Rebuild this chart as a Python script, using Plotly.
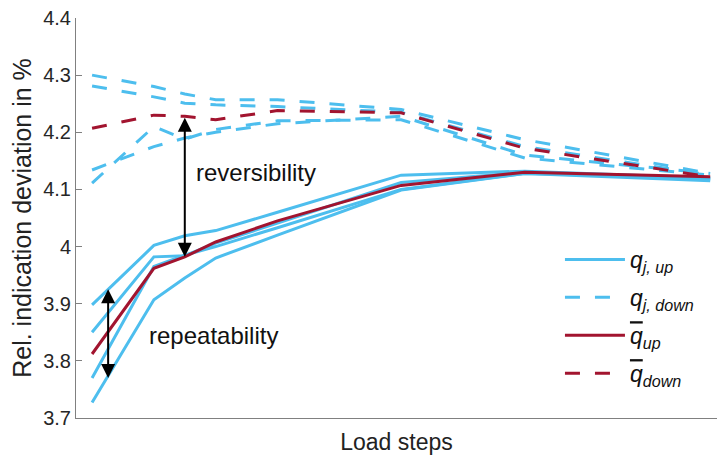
import plotly.graph_objects as go

# ---------------- data ----------------
load_steps = [0, 10, 15, 20, 30, 50, 70, 100]

q_up_runs = [
    [3.898, 4.002, 4.019, 4.028, 4.060, 4.125, 4.132, 4.120],
    [3.850, 3.982, 3.984, 4.006, 4.041, 4.112, 4.130, 4.118],
    [3.770, 3.965, 3.985, 4.000, 4.033, 4.100, 4.128, 4.120],
    [3.727, 3.907, 3.945, 3.980, 4.020, 4.099, 4.128, 4.115],
]
q_down_runs = [
    [4.300, 4.280, 4.267, 4.257, 4.257, 4.240, 4.187, 4.128],
    [4.281, 4.262, 4.251, 4.248, 4.245, 4.235, 4.175, 4.125],
    [4.134, 4.175, 4.190, 4.200, 4.215, 4.228, 4.160, 4.128],
    [4.111, 4.210, 4.188, 4.205, 4.220, 4.222, 4.155, 4.125],
]
q_up_mean = [3.812, 3.962, 3.982, 4.008, 4.045, 4.107, 4.130, 4.122]
q_down_mean = [4.207, 4.230, 4.228, 4.222, 4.238, 4.234, 4.172, 4.122]

y_ticks = [3.7, 3.8, 3.9, 4.0, 4.1, 4.2, 4.3, 4.4]
y_tick_labels = ["3.7", "3.8", "3.9", "4", "4.1", "4.2", "4.3", "4.4"]

# annotation anchors (data units)
reversibility_idx = 2
repeat_x = 2.6
repeat_span = [3.928, 3.770]

BLUE = "#4DBEEE"
RED = "#A2142F"
FONT = "Liberation Sans, Arial, Helvetica, sans-serif"
DASH = "15px,15px"

fig = go.Figure()

for i, run in enumerate(q_up_runs):
    fig.add_trace(go.Scatter(
        x=load_steps, y=run, mode="lines",
        line=dict(color=BLUE, width=3),
        name="<i>q</i><sub><i>j, up</i></sub>",
        legendgroup="g1", showlegend=(i == 0)))
for i, run in enumerate(q_down_runs):
    fig.add_trace(go.Scatter(
        x=load_steps, y=run, mode="lines",
        line=dict(color=BLUE, width=3, dash=DASH),
        name="<i>q</i><sub><i>j, down</i></sub>",
        legendgroup="g2", showlegend=(i == 0)))
fig.add_trace(go.Scatter(
    x=load_steps, y=q_up_mean, mode="lines",
    line=dict(color=RED, width=3),
    name="<span style='text-decoration:overline'><i>q</i></span><sub><i>up</i></sub>",
    legendgroup="g3"))
fig.add_trace(go.Scatter(
    x=load_steps, y=q_down_mean, mode="lines",
    line=dict(color=RED, width=3, dash=DASH),
    name="<span style='text-decoration:overline'><i>q</i></span><sub><i>down</i></sub>",
    legendgroup="g4"))

# arrows
rx = load_steps[reversibility_idx]
for (x0, y_head, y_tail) in [
        (rx, q_up_mean[reversibility_idx], q_down_mean[reversibility_idx]),
        (repeat_x, repeat_span[1], repeat_span[0])]:
    fig.add_annotation(x=x0, y=y_head, ax=x0, ay=y_tail,
                       xref="x", yref="y", axref="x", ayref="y",
                       text="", showarrow=True, arrowside="end+start",
                       arrowhead=2, arrowsize=1.4, arrowwidth=2,
                       arrowcolor="black", standoff=0, startstandoff=0)
fig.add_annotation(x=26.5, y=4.13, text="reversibility", showarrow=False,
                   font=dict(size=24, color="#111"))
fig.add_annotation(x=19.7, y=3.845, text="repeatability", showarrow=False,
                   font=dict(size=24, color="#111"))

fig.update_layout(
    width=717, height=455,
    margin=dict(l=76, r=0, t=18, b=37),
    plot_bgcolor="white", paper_bgcolor="white",
    font=dict(family=FONT, size=20, color="#262626"),
    showlegend=True,
    legend=dict(x=0.755, y=0.45, xanchor="left", yanchor="top",
                bgcolor="rgba(0,0,0,0)", font=dict(size=23, color="#111"),
                tracegroupgap=5, itemwidth=60),
    xaxis=dict(range=[-2.6, 101.1], showticklabels=False, ticks="",
               showgrid=False, zeroline=False, showline=True,
               linecolor="#808080", linewidth=1,
               title=dict(text="Load steps", font=dict(size=23, color="#222"))),
    yaxis=dict(range=[3.7, 4.4], tickvals=y_ticks, ticktext=y_tick_labels,
               ticks="inside", ticklen=6, tickcolor="#808080",
               showgrid=False, zeroline=False, showline=True,
               linecolor="#808080", linewidth=1,
               tickfont=dict(size=20, color="#262626"),
               title=dict(text="Rel. indication deviation in %",
                          font=dict(size=25, color="#222"), standoff=4)),
)

fig.write_html("out.html")
